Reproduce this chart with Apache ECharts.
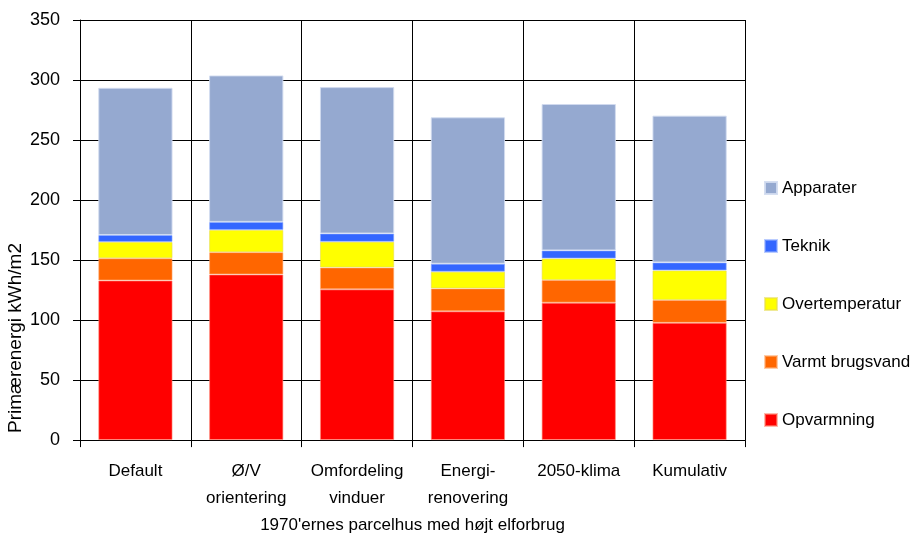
<!DOCTYPE html>
<html>
<head>
<meta charset="utf-8">
<script src="https://cdn.jsdelivr.net/npm/echarts@6/dist/echarts.min.js"></script>
<style>
html,body{margin:0;padding:0;background:#fff;}
#chart{width:910px;height:539px;}
</style>
</head>
<body>
<div id="chart"></div>
<script>
const categories = ['Default', 'Ø/V\norientering', 'Omfordeling\nvinduer', 'Energi-\nrenovering', '2050-klima', 'Kumulativ'];
const opvarmning = [133, 138, 125.6, 107.3, 114.5, 97.7];
const varmtBrugsvand = [18.5, 18.6, 18.2, 19.1, 18.9, 19.1];
const overtemperatur = [13.6, 18.5, 21.4, 13.9, 17.9, 24.6];
const teknik = [5.8, 6.7, 6.9, 6.6, 6.7, 6.6];
const apparater = [122.6, 122, 122, 122, 122, 122.3];
const yTicks = [0, 50, 100, 150, 200, 250, 300, 350];
const yAxisTitle = 'Primærenergi kWh/m2';
const xAxisTitle = "1970'ernes parcelhus med højt elforbrug";

const FONT = '"Liberation Sans", Arial, sans-serif';
const chart = echarts.init(document.getElementById('chart'), null, {renderer: 'canvas'});

function mk(name, data, color, border) {
  return {
    name: name, type: 'bar', stack: 'total', data: data, barWidth: '67%',
    itemStyle: {color: color, borderColor: border, borderWidth: 1},
    emphasis: {disabled: true}
  };
}

chart.setOption({
  animation: false,
  grid: {left: 80, right: 165, top: 20, bottom: 95, containLabel: false},
  textStyle: {fontFamily: FONT},
  legend: {
    orient: 'vertical', left: 759, top: 174,
    itemWidth: 12, itemHeight: 12, itemGap: 40,
    icon: 'rect',
    data: ['Apparater', 'Teknik', 'Overtemperatur', 'Varmt brugsvand', 'Opvarmning'],
    textStyle: {fontFamily: FONT, fontSize: 17, color: '#000', lineHeight: 18, padding: [0,0,0,0]},
    selectedMode: false
  },
  xAxis: {
    type: 'category', data: categories,
    axisLine: {show: true, lineStyle: {color: '#000', width: 1}},
    axisTick: {show: true, length: 7, lineStyle: {color: '#000'}},
    splitLine: {show: true, lineStyle: {color: '#000', width: 1}},
    axisLabel: {fontFamily: FONT, fontSize: 17, color: '#000', margin: 18, lineHeight: 27, interval: 0},
    name: xAxisTitle, nameLocation: 'middle', nameGap: 71,
    nameTextStyle: {fontFamily: FONT, fontSize: 17, color: '#000'}
  },
  yAxis: {
    type: 'value', min: 0, max: 350, interval: 50,
    axisLine: {show: true, lineStyle: {color: '#000', width: 1}},
    axisTick: {show: true, length: 7, inside: false, lineStyle: {color: '#000'}},
    splitLine: {show: true, lineStyle: {color: '#000', width: 1}},
    axisLabel: {fontFamily: FONT, fontSize: 18, color: '#000', margin: 20,
      formatter: function (v) { return yTicks.indexOf(v) >= 0 ? String(v) : ''; }}
  },
  graphic: [{
    type: 'text', left: 6, top: 243, rotation: Math.PI / 2,
    style: {text: yAxisTitle, font: '19px ' + FONT, fill: '#000'}
  }],
  series: [
    mk('Opvarmning', opvarmning, '#FF0000', 'rgba(255,140,120,0.6)'),
    mk('Varmt brugsvand', varmtBrugsvand, '#FF6600', 'rgba(255,170,110,0.6)'),
    mk('Overtemperatur', overtemperatur, '#FFFF00', 'rgba(230,220,80,0.6)'),
    mk('Teknik', teknik, '#3366FF', 'rgba(140,170,255,0.6)'),
    mk('Apparater', apparater, '#95A9D0', 'rgba(210,220,240,0.9)')
  ]
});
</script>
</body>
</html>
